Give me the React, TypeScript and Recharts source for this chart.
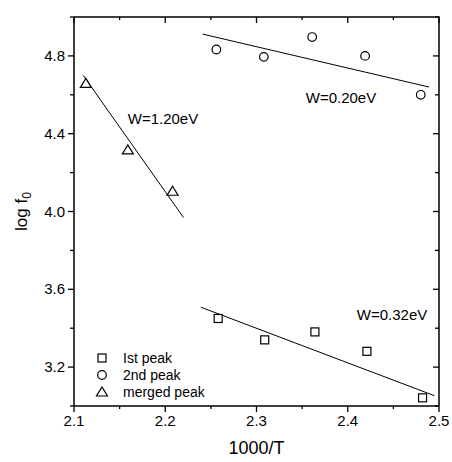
import {
  ComposedChart,
  Legend,
  ReferenceDot,
  Scatter,
  XAxis,
  YAxis,
} from "recharts";

document.body.style.margin = "0";

// 1st peak (squares)
const firstX = [2.258, 2.309, 2.364, 2.421, 2.482];
const firstY = [3.45, 3.34, 3.381, 3.281, 3.042];
// 2nd peak (circles)
const secondX = [2.256, 2.308, 2.361, 2.419, 2.48];
const secondY = [4.833, 4.795, 4.897, 4.8, 4.6];
// merged peak (triangles)
const mergedX = [2.113, 2.159, 2.208];
const mergedY = [4.659, 4.317, 4.104];

// fitted lines (end points)
const fitFirstX = [2.239, 2.495];
const fitFirstY = [3.508, 3.053];
const fitSecondX = [2.241, 2.489];
const fitSecondY = [4.912, 4.64];
const fitMergedX = [2.11, 2.22];
const fitMergedY = [4.7, 3.969];

const xDomain = [2.1, 2.5];
const yDomain = [3.0, 5.0];
const xMajor = [2.1, 2.2, 2.3, 2.4, 2.5];
const xMinor = [2.15, 2.25, 2.35, 2.45];
const yMajor = [3.2, 3.6, 4.0, 4.4, 4.8];
const yMinor = [3.0, 3.4, 3.8, 4.2, 4.6, 5.0];

const annotations = [
  { x: 2.3926, y: 4.587, text: "W=0.20eV" },
  { x: 2.1975, y: 4.479, text: "W=1.20eV" },
  { x: 2.4485, y: 3.472, text: "W=0.32eV" },
];

const zip = (xs: number[], ys: number[]) => xs.map((x, i) => ({ x, y: ys[i] }));

// tick marks for the four sides of the frame
const xMarks = [
  ...xMajor.map((x) => ({ x, major: true })),
  ...xMinor.map((x) => ({ x, major: false })),
];
const yMarks = [
  ...yMajor.map((y) => ({ y, major: true })),
  ...yMinor.map((y) => ({ y, major: false })),
];
const bottomMarks = xMarks.map((m) => ({ ...m, y: yDomain[0] }));
const topMarks = xMarks.map((m) => ({ ...m, y: yDomain[1] }));
const leftMarks = yMarks.map((m) => ({ ...m, x: xDomain[0] }));
const rightMarks = yMarks.map((m) => ({ ...m, x: xDomain[1] }));
// top and right border of the box
const frame = [
  { x: xDomain[0], y: yDomain[1] },
  { x: xDomain[1], y: yDomain[1] },
  { x: xDomain[1], y: yDomain[0] },
];

const SquareDot = ({ cx, cy }: any) => (
  <rect x={cx - 4} y={cy - 4} width={8} height={8} fill="#fff" stroke="#000" strokeWidth={1.2} />
);
const CircleDot = ({ cx, cy }: any) => (
  <circle cx={cx} cy={cy} r={4.3} fill="#fff" stroke="#000" strokeWidth={1.2} />
);
const TriangleDot = ({ cx, cy }: any) => (
  <path
    d={`M${cx},${cy - 5} L${cx + 5.5},${cy + 4} L${cx - 5.5},${cy + 4} Z`}
    fill="#fff"
    stroke="#000"
    strokeWidth={1.2}
  />
);
const NoDot = () => <g />;

const markLen = (p: any, major: number, minor: number) => (p.payload?.major ?? p.major ? major : minor);

const DownMark = (sign: number) => (p: any) => {
  const len = markLen(p, 6, 3) * sign;
  return <line x1={p.cx} x2={p.cx} y1={p.cy} y2={p.cy + len} stroke="#000" strokeWidth={1.3} />;
};
const LeftMark = (p: any) => {
  const len = markLen(p, 6, 4);
  return <line x1={p.cx} x2={p.cx - len} y1={p.cy} y2={p.cy} stroke="#000" strokeWidth={1.3} />;
};
const BottomMark = DownMark(1);
const TopMark = DownMark(1);

const XTick = ({ x, y, payload }: any) => (
  <text x={x} y={y + 20} textAnchor="middle" fontSize={15} fill="#000">
    {payload.value.toFixed(1)}
  </text>
);

const YTick = ({ x, y, payload }: any) => (
  <text x={x - 9} y={y + 5} textAnchor="end" fontSize={15} fill="#000">
    {payload.value.toFixed(1)}
  </text>
);

const YTitle = ({ viewBox }: any) => {
  const cx = viewBox.x + 13;
  const cy = viewBox.y + viewBox.height / 2;
  return (
    <text
      x={cx}
      y={cy}
      transform={`rotate(-90 ${cx} ${cy})`}
      textAnchor="middle"
      fontSize={17}
      fill="#000"
    >
      log f
      <tspan fontSize={12} dy={4}>
        0
      </tspan>
    </text>
  );
};

const legendItems = [
  { name: "Ist peak", Shape: SquareDot },
  { name: "2nd peak", Shape: CircleDot },
  { name: "merged peak", Shape: TriangleDot },
];

const LegendBox = () => (
  <svg width={130} height={56}>
    {legendItems.map(({ name, Shape }, i) => (
      <g key={name}>
        <Shape cx={8} cy={8 + i * 17} />
        <text x={29} y={13 + i * 17} fontSize={14} fill="#000">
          {name}
        </text>
      </g>
    ))}
  </svg>
);

const hidden = { isAnimationActive: false, legendType: "none" as const };

export default function App() {
  return (
    <div style={{ fontFamily: "'Liberation Sans', Arial, sans-serif" }}>
      <ComposedChart width={452} height={462} margin={{ top: 17, right: 13, bottom: 0, left: 14 }}>
        <XAxis
          type="number"
          dataKey="x"
          domain={xDomain}
          ticks={xMajor}
          interval={0}
          height={56}
          tickSize={0}
          tickMargin={0}
          tickLine={false}
          tick={<XTick />}
          axisLine={{ stroke: "#000", strokeWidth: 1.5 }}
          label={{ value: "1000/T", position: "insideBottom", offset: 8, fontSize: 18, fill: "#000" }}
        />
        <YAxis
          type="number"
          dataKey="y"
          domain={yDomain}
          ticks={yMajor}
          interval={0}
          width={60}
          tickSize={0}
          tickMargin={0}
          tickLine={false}
          tick={<YTick />}
          axisLine={{ stroke: "#000", strokeWidth: 1.5 }}
          label={<YTitle />}
        />
        <Scatter data={frame} line={{ stroke: "#000", strokeWidth: 1.5 }} shape={<NoDot />} {...hidden} />
        <Scatter data={bottomMarks} shape={BottomMark} {...hidden} />
        <Scatter data={topMarks} shape={TopMark} {...hidden} />
        <Scatter data={leftMarks} shape={LeftMark} {...hidden} />
        <Scatter data={rightMarks} shape={LeftMark} {...hidden} />
        <Scatter data={zip(fitFirstX, fitFirstY)} line={{ stroke: "#000", strokeWidth: 1 }} shape={<NoDot />} {...hidden} />
        <Scatter data={zip(fitSecondX, fitSecondY)} line={{ stroke: "#000", strokeWidth: 1 }} shape={<NoDot />} {...hidden} />
        <Scatter data={zip(fitMergedX, fitMergedY)} line={{ stroke: "#000", strokeWidth: 1 }} shape={<NoDot />} {...hidden} />
        <Scatter name="Ist peak" data={zip(firstX, firstY)} shape={<SquareDot />} isAnimationActive={false} />
        <Scatter name="2nd peak" data={zip(secondX, secondY)} shape={<CircleDot />} isAnimationActive={false} />
        <Scatter name="merged peak" data={zip(mergedX, mergedY)} shape={<TriangleDot />} isAnimationActive={false} />
        {annotations.map((a) => (
          <ReferenceDot
            key={a.text}
            x={a.x}
            y={a.y}
            r={0}
            stroke="none"
            fill="none"
            label={{ value: a.text, position: "center", fontSize: 15, fill: "#000" }}
          />
        ))}
        <Legend
          layout="vertical"
          align="center"
          verticalAlign="middle"
          wrapperStyle={{ left: 94, top: 350, width: 130 }}
          content={<LegendBox />}
        />
      </ComposedChart>
    </div>
  );
}
